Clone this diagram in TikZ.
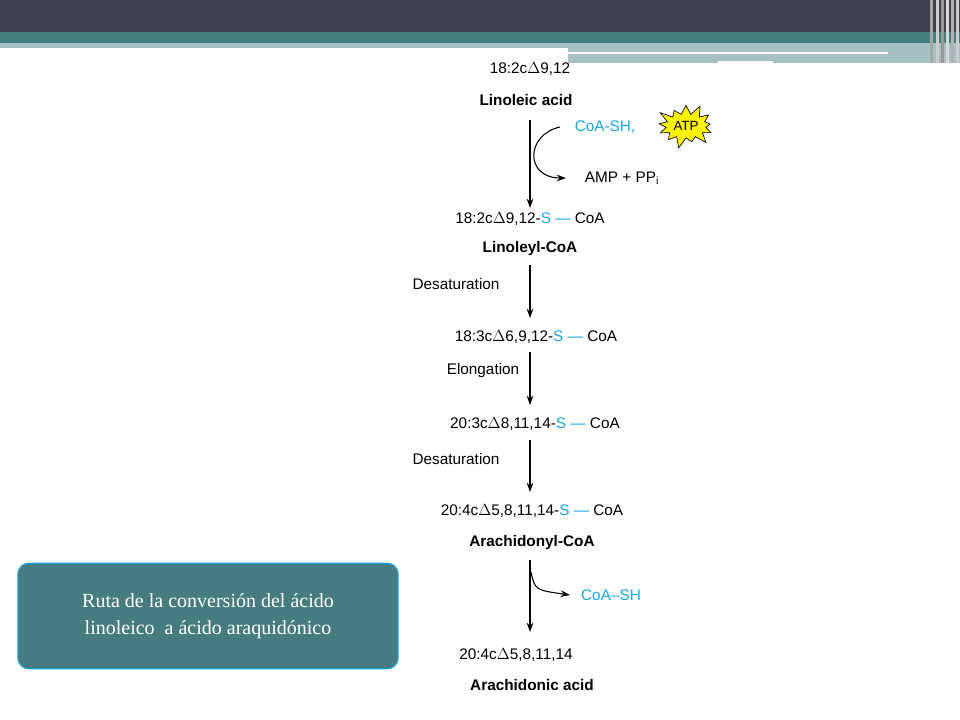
\documentclass[tikz,border=0pt]{standalone}
\usepackage{fontspec}
\setmainfont{Liberation Sans}
\newfontfamily\serifbox{Liberation Serif}
\usetikzlibrary{shapes.misc,shapes.geometric,shapes.symbols,arrows.meta}
\definecolor{dark}{HTML}{41404F}
\definecolor{teal1}{HTML}{457F80}
\definecolor{lteal}{HTML}{A7C0C4}
\definecolor{cy}{HTML}{1AA6E6}
\definecolor{boxf}{HTML}{467C80}
\definecolor{boxb}{HTML}{1FA0D8}
\tikzset{
 lbl/.style={font=\fontsize{11.5}{13}\selectfont, inner sep=0pt},
 bl/.style={lbl, font=\fontsize{11.5}{13}\selectfont\bfseries},
 arr/.style={-{Stealth[length=7pt,width=5pt]}, line width=0.8pt},
}
\begin{document}
\begin{tikzpicture}[x=0.75pt,y=-0.75pt]
\useasboundingbox (0,0) rectangle (960,720);
\fill[white] (0,0) rectangle (960,720);
% header
\fill[dark] (0,0) rectangle (960,32);
\fill[teal1] (0,32) rectangle (960,43);
\fill[lteal] (0,43) rectangle (568,48);
\fill[lteal] (568,43) rectangle (960,63);
\fill[white] (568,52) rectangle (888,54);
\fill[white] (718,61) rectangle (773,63);
\foreach \x/\c in {930/gray!70,936/gray!40,941/gray!80,946/gray!30,951/gray!60,956/gray!40}
  \fill[\c] (\x,0) rectangle (\x+3,63);
% labels
\node[lbl] (a1) at (530,69) {18:2c$\Delta$9,12};
\node[bl] (a2) at (526,100) {Linoleic acid};
\node[lbl] (b1) at (530,219) {18:2c$\Delta$9,12-\textcolor{cy}{S — }CoA};
\node[bl] (b2) at (530,249) {Linoleyl-CoA};
\node[lbl] (c1) at (536,337) {18:3c$\Delta$6,9,12-\textcolor{cy}{S — }CoA};
\node[lbl] (d1) at (535,424) {20:3c$\Delta$8,11,14-\textcolor{cy}{S — }CoA};
\node[lbl] (e1) at (532,511) {20:4c$\Delta$5,8,11,14-\textcolor{cy}{S — }CoA};
\node[bl] (e2) at (532,543) {Arachidonyl-CoA};
\node[lbl] (f1) at (516,655) {20:4c$\Delta$5,8,11,14};
\node[bl] (f2) at (532,685) {Arachidonic acid};
\node[lbl,text=cy] (coash) at (605,127) {CoA-SH,};
\node[lbl] (amp) at (622,178) {AMP + PP$_{\mathrm i}$};
\node[starburst, starburst points=13, starburst point height=9pt, fill=yellow, draw=black, line width=0.5pt, minimum width=48pt, minimum height=36pt, inner sep=0pt, font=\fontsize{10}{12}\selectfont] (atp) at (686,126) {ATP};
\node[lbl] (des1) at (456,284) {Desaturation};
\node[lbl] (elo) at (483,371) {Elongation};
\node[lbl] (des2) at (456,459) {Desaturation};
\node[lbl,text=cy] (coash2) at (611,595) {CoA–SH};
% arrows
\coordinate (s1) at (530,120); \coordinate (t1) at (530,208);
\draw[arr] (s1) -- (t1);
\coordinate (c1s) at (560,127); \coordinate (c1e) at (566,178);
\draw[arr] (c1s) .. controls (525,135) and (525,178) .. (c1e);
\coordinate (s2) at (530,265); \coordinate (t2) at (530,318);
\draw[arr] (s2) -- (t2);
\coordinate (s3) at (530,352); \coordinate (t3) at (530,405);
\draw[arr] (s3) -- (t3);
\coordinate (s4) at (530,440); \coordinate (t4) at (530,492);
\draw[arr] (s4) -- (t4);
\coordinate (s5) at (530,560); \coordinate (t5) at (530,632);
\draw[arr] (s5) -- (t5);
\coordinate (c2s) at (531,572); \coordinate (c2e) at (570,595);
\draw[arr] (c2s) .. controls (535,590) .. (c2e);
% box
\node[draw=boxb, line width=1pt, fill=boxf, rounded corners=8pt, minimum width=285pt, minimum height=79pt, text=white, align=center, font=\serifbox\fontsize{15}{20}\selectfont] (box) at (208,616) {Ruta de la conversión del ácido\\linoleico\ \ a ácido araquidónico};
\end{tikzpicture}
\end{document}
